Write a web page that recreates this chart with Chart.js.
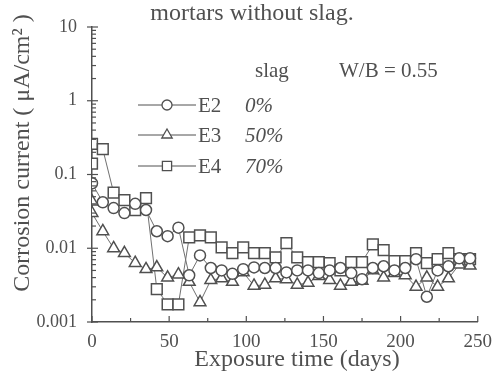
<!DOCTYPE html>
<html><head><meta charset="utf-8">
<script src="https://cdn.jsdelivr.net/npm/chart.js@4.4.1/dist/chart.umd.min.js"></script>
<style>html,body{margin:0;padding:0;background:#fff;}#wrap{width:493px;height:377px;}</style>
</head><body><div id="wrap"><canvas id="c" width="493" height="377"></canvas></div>
<script>
// ---- data ----
const titleText = 'mortars without slag.';
const xTitle = 'Exposure time (days)';
const yTitle = 'Corrosion current ( \u03bcA/cm\u00b2 )';
const xTickValues = [0, 50, 100, 150, 200, 250];
const yTickLabels = ['0.001', '0.01', '0.1', '1', '10'];

const seriesNames = ['E2', 'E3', 'E4'];
const slagLabels = ['0%', '50%', '70%'];

const daysE2 = [0,7,14,21,28,35,42,49,56,63,70,77,84,91,98,105,112,119,126,133,140,147,154,161,168,175,182,189,196,203,210,217,224,231,238,245];
const valuesE2 = [0.076,0.042,0.035,0.030,0.040,0.033,0.017,0.0146,0.019,0.0043,0.0080,0.0054,0.0050,0.0045,0.0052,0.0055,0.0054,0.0054,0.0047,0.0050,0.0050,0.0046,0.0050,0.0054,0.0046,0.0038,0.0054,0.0057,0.0050,0.0054,0.0071,0.0022,0.0050,0.0057,0.0073,0.0073];

const daysE3 = [0,0,7,14,21,28,35,42,49,56,63,70,77,84,91,98,105,112,119,126,133,140,147,154,161,168,175,182,189,196,203,210,217,224,231,238,245];
const valuesE3 = [0.043,0.030,0.017,0.010,0.0086,0.0063,0.0052,0.0055,0.0040,0.0044,0.0035,0.00185,0.0037,0.0039,0.0035,0.0047,0.0031,0.0032,0.0039,0.0038,0.0032,0.0034,0.0042,0.0037,0.0031,0.0035,0.0036,0.0050,0.0040,0.0046,0.0043,0.0030,0.0040,0.0030,0.0039,0.0060,0.0058];

const daysE4 = [0,0,7,14,21,28,35,42,49,56,63,70,77,84,91,98,105,112,119,126,133,140,147,154,161,168,175,182,189,196,203,210,217,224,231,238,245];
const valuesE4 = [0.14,0.26,0.22,0.057,0.045,0.033,0.048,0.0028,0.00174,0.00174,0.014,0.015,0.014,0.0103,0.0086,0.0103,0.0086,0.0086,0.0075,0.0117,0.0075,0.0065,0.0065,0.0063,0.0050,0.0065,0.0065,0.0113,0.0094,0.0067,0.0067,0.0086,0.0063,0.0071,0.0086,0.0071,0.0071];

// ---- styling ----
const INK = '#505050';
const SERIF = '"Liberation Serif", "DejaVu Serif", serif';
const pts = (d, v) => d.map((x, i) => ({x: x, y: v[i]}));

const styles = [
  {pointStyle: 'circle', radius: 5.5},
  {pointStyle: 'triangle', radius: 6.8},
  {pointStyle: 'rect', radius: 7.6}
];
const allData = [pts(daysE2, valuesE2), pts(daysE3, valuesE3), pts(daysE4, valuesE4)];

const datasets = allData.map((d, i) => ({
  label: seriesNames[i],
  data: d,
  borderColor: '#707070',
  borderWidth: 1,
  pointStyle: styles[i].pointStyle,
  pointRadius: styles[i].radius,
  pointBorderColor: INK,
  pointBackgroundColor: '#ffffff',
  pointBorderWidth: 1.5,
  tension: 0,
  fill: false
}));

function drawMarker(ctx, style, x, y, r) {
  ctx.beginPath();
  if (style === 'circle') {
    ctx.arc(x, y, r, 0, Math.PI * 2);
  } else if (style === 'triangle') {
    ctx.moveTo(x, y - r);
    ctx.lineTo(x + r * Math.sin(2 * Math.PI / 3), y - r * Math.cos(2 * Math.PI / 3));
    ctx.lineTo(x + r * Math.sin(4 * Math.PI / 3), y - r * Math.cos(4 * Math.PI / 3));
    ctx.closePath();
  } else {
    const s = r * Math.SQRT1_2;
    ctx.rect(x - s, y - s, 2 * s, 2 * s);
  }
  ctx.fillStyle = '#fff';
  ctx.fill();
  ctx.stroke();
}

const decor = {
  id: 'decor',
  afterDraw(chart) {
    const ctx = chart.ctx;
    const xs = chart.scales.x, ys = chart.scales.y;
    const area = chart.chartArea;
    ctx.save();
    ctx.strokeStyle = INK;
    ctx.lineWidth = 1.2;
    // y ticks (log): minor inward, major across
    for (let e = -3; e <= 1; e++) {
      for (let m = 1; m <= 9; m++) {
        const v = m * Math.pow(10, e);
        if (v > 10.0001) break;
        const py = ys.getPixelForValue(v);
        ctx.beginPath();
        if (m === 1) { ctx.moveTo(area.left - 5, py); ctx.lineTo(area.left + 6, py); }
        else { ctx.moveTo(area.left, py); ctx.lineTo(area.left + 4, py); }
        ctx.stroke();
      }
    }
    // x ticks inward
    for (let d = 0; d <= 250; d += 25) {
      const px = xs.getPixelForValue(d);
      ctx.beginPath();
      ctx.moveTo(px, area.bottom);
      ctx.lineTo(px, area.bottom - (d % 50 === 0 ? 6 : 4));
      ctx.stroke();
    }
    // axis titles
    ctx.fillStyle = INK;
    ctx.font = '24px ' + SERIF;
    ctx.textAlign = 'center';
    ctx.textBaseline = 'alphabetic';
    ctx.fillText(xTitle, 297, 366);
    ctx.save();
    ctx.translate(29, 153);
    ctx.rotate(-Math.PI / 2);
    ctx.fillText(yTitle, 0, 0);
    ctx.restore();
    // main title
    ctx.fillText(titleText, 252, 20);
    // legend
    ctx.font = '21px ' + SERIF;
    ctx.textAlign = 'left';
    ctx.fillText('slag', 255, 77);
    ctx.fillText('W/B = 0.55', 339, 77);
    const rowY = [105, 135, 166];
    const legR = [5, 6, 6.5];
    for (let i = 0; i < 3; i++) {
      const y = rowY[i];
      ctx.lineWidth = 1;
      ctx.strokeStyle = INK;
      ctx.beginPath();
      ctx.moveTo(138, y); ctx.lineTo(196, y);
      ctx.stroke();
      ctx.lineWidth = 1.3;
      drawMarker(ctx, styles[i].pointStyle, 167, y, legR[i]);
      ctx.fillStyle = INK;
      ctx.font = '21px ' + SERIF;
      ctx.fillText(seriesNames[i], 198, y + 7);
      ctx.font = 'italic 21px ' + SERIF;
      ctx.fillText(slagLabels[i], 245, y + 7);
    }
    ctx.restore();
  }
};

new Chart(document.getElementById('c'), {
  type: 'line',
  data: {datasets: datasets},
  plugins: [decor],
  options: {
    responsive: false,
    animation: false,
    layout: {padding: {left: 0, right: 15, top: 27, bottom: 0}},
    plugins: {
      legend: {display: false},
      tooltip: {enabled: false},
      title: {display: false}
    },
    scales: {
      x: {
        type: 'linear', min: 0, max: 250,
        afterBuildTicks: (s) => { s.ticks = xTickValues.map(v => ({value: v})); },
        afterFit: (s) => { s.height = 55; },
        grid: {display: false},
        border: {display: true, color: INK, width: 1.5},
        ticks: {color: INK, padding: 1, font: {family: SERIF, size: 19}, maxRotation: 0, autoSkip: false}
      },
      y: {
        type: 'logarithmic', min: 0.001, max: 10,
        afterFit: (s) => { s.width = 92; },
        grid: {display: false},
        border: {display: true, color: INK, width: 1.5},
        ticks: {
          color: INK, padding: 7, autoSkip: false,
          font: {family: SERIF, size: 18},
          callback: (v) => {
            const l = Math.log10(v);
            if (Math.abs(l - Math.round(l)) < 1e-6) return yTickLabels[Math.round(l) + 3];
            return '';
          }
        }
      }
    }
  }
});
</script></body></html>
